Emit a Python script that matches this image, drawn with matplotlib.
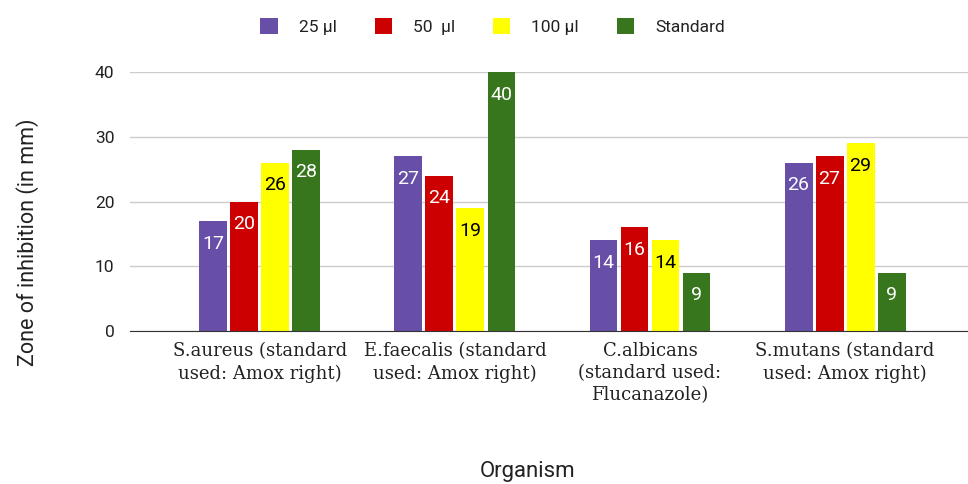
import matplotlib.pyplot as plt
import numpy as np

# data
organisms = ["S.aureus (standard\nused: Amox right)",
             "E.faecalis (standard\nused: Amox right)",
             "C.albicans\n(standard used:\nFlucanazole)",
             "S.mutans (standard\nused: Amox right)"]
series_names = ["25 µl", "50  µl", "100 µl", "Standard"]
v25 = [17, 27, 14, 26]
v50 = [20, 24, 16, 27]
v100 = [26, 19, 14, 29]
vstd = [28, 40, 9, 9]
colors = ["#674ea7", "#cc0000", "#ffff00", "#38761d"]
label_colors = ["white", "white", "black", "white"]

plt.rcParams['font.family'] = ['Roboto', 'DejaVu Sans']

fig = plt.figure(figsize=(9.68, 4.84), dpi=100)
ax = fig.add_axes([0.134, 0.316, 0.866, 0.535])

x = np.arange(len(organisms))
width = 0.143
step = 0.159
all_vals = [v25, v50, v100, vstd]
for i, vals in enumerate(all_vals):
    pos = x + (i - 1.5) * step
    bars = ax.bar(pos, vals, width, color=colors[i], label=series_names[i], zorder=3)
    for xp, v in zip(pos, vals):
        ax.text(xp, v - 2.1, str(v), ha='center', va='top', fontsize=14,
                color=label_colors[i], zorder=4)

ax.set_ylim(0, 40)
ax.set_xlim(-0.667, 3.63)
ax.set_yticks([0, 10, 20, 30, 40])
ax.tick_params(axis='y', length=0, labelsize=12.5, colors='#222222', pad=11)
ax.tick_params(axis='x', length=0, pad=8)
ax.set_xticks(x)
ax.set_xticklabels(organisms, fontsize=13, family=['DejaVu Serif Condensed', 'DejaVu Serif'],
                   color='#222222', linespacing=1.3, va='top')
ax.grid(axis='y', color='#cccccc', linewidth=1, zorder=0)
for s in ['top', 'right', 'left']:
    ax.spines[s].set_visible(False)
ax.spines['bottom'].set_color('#333333')
ax.spines['bottom'].set_zorder(5)

fig.text(0.028, 0.50, "Zone of inhibition (in mm)", rotation=90, ha='center', va='center',
         fontsize=15.5, color='#222222')
fig.text(0.545, 0.025, "Organism", ha='center', va='center', fontsize=16, color='#222222')

fig.legend(loc='center', bbox_to_anchor=(0.509, 0.945), ncol=4, frameon=False,
           fontsize=12.5, handlelength=1.0, handleheight=1.0, columnspacing=2.2,
           handletextpad=1.2, labelcolor='#222222')

fig.savefig("out.png", dpi=100)
